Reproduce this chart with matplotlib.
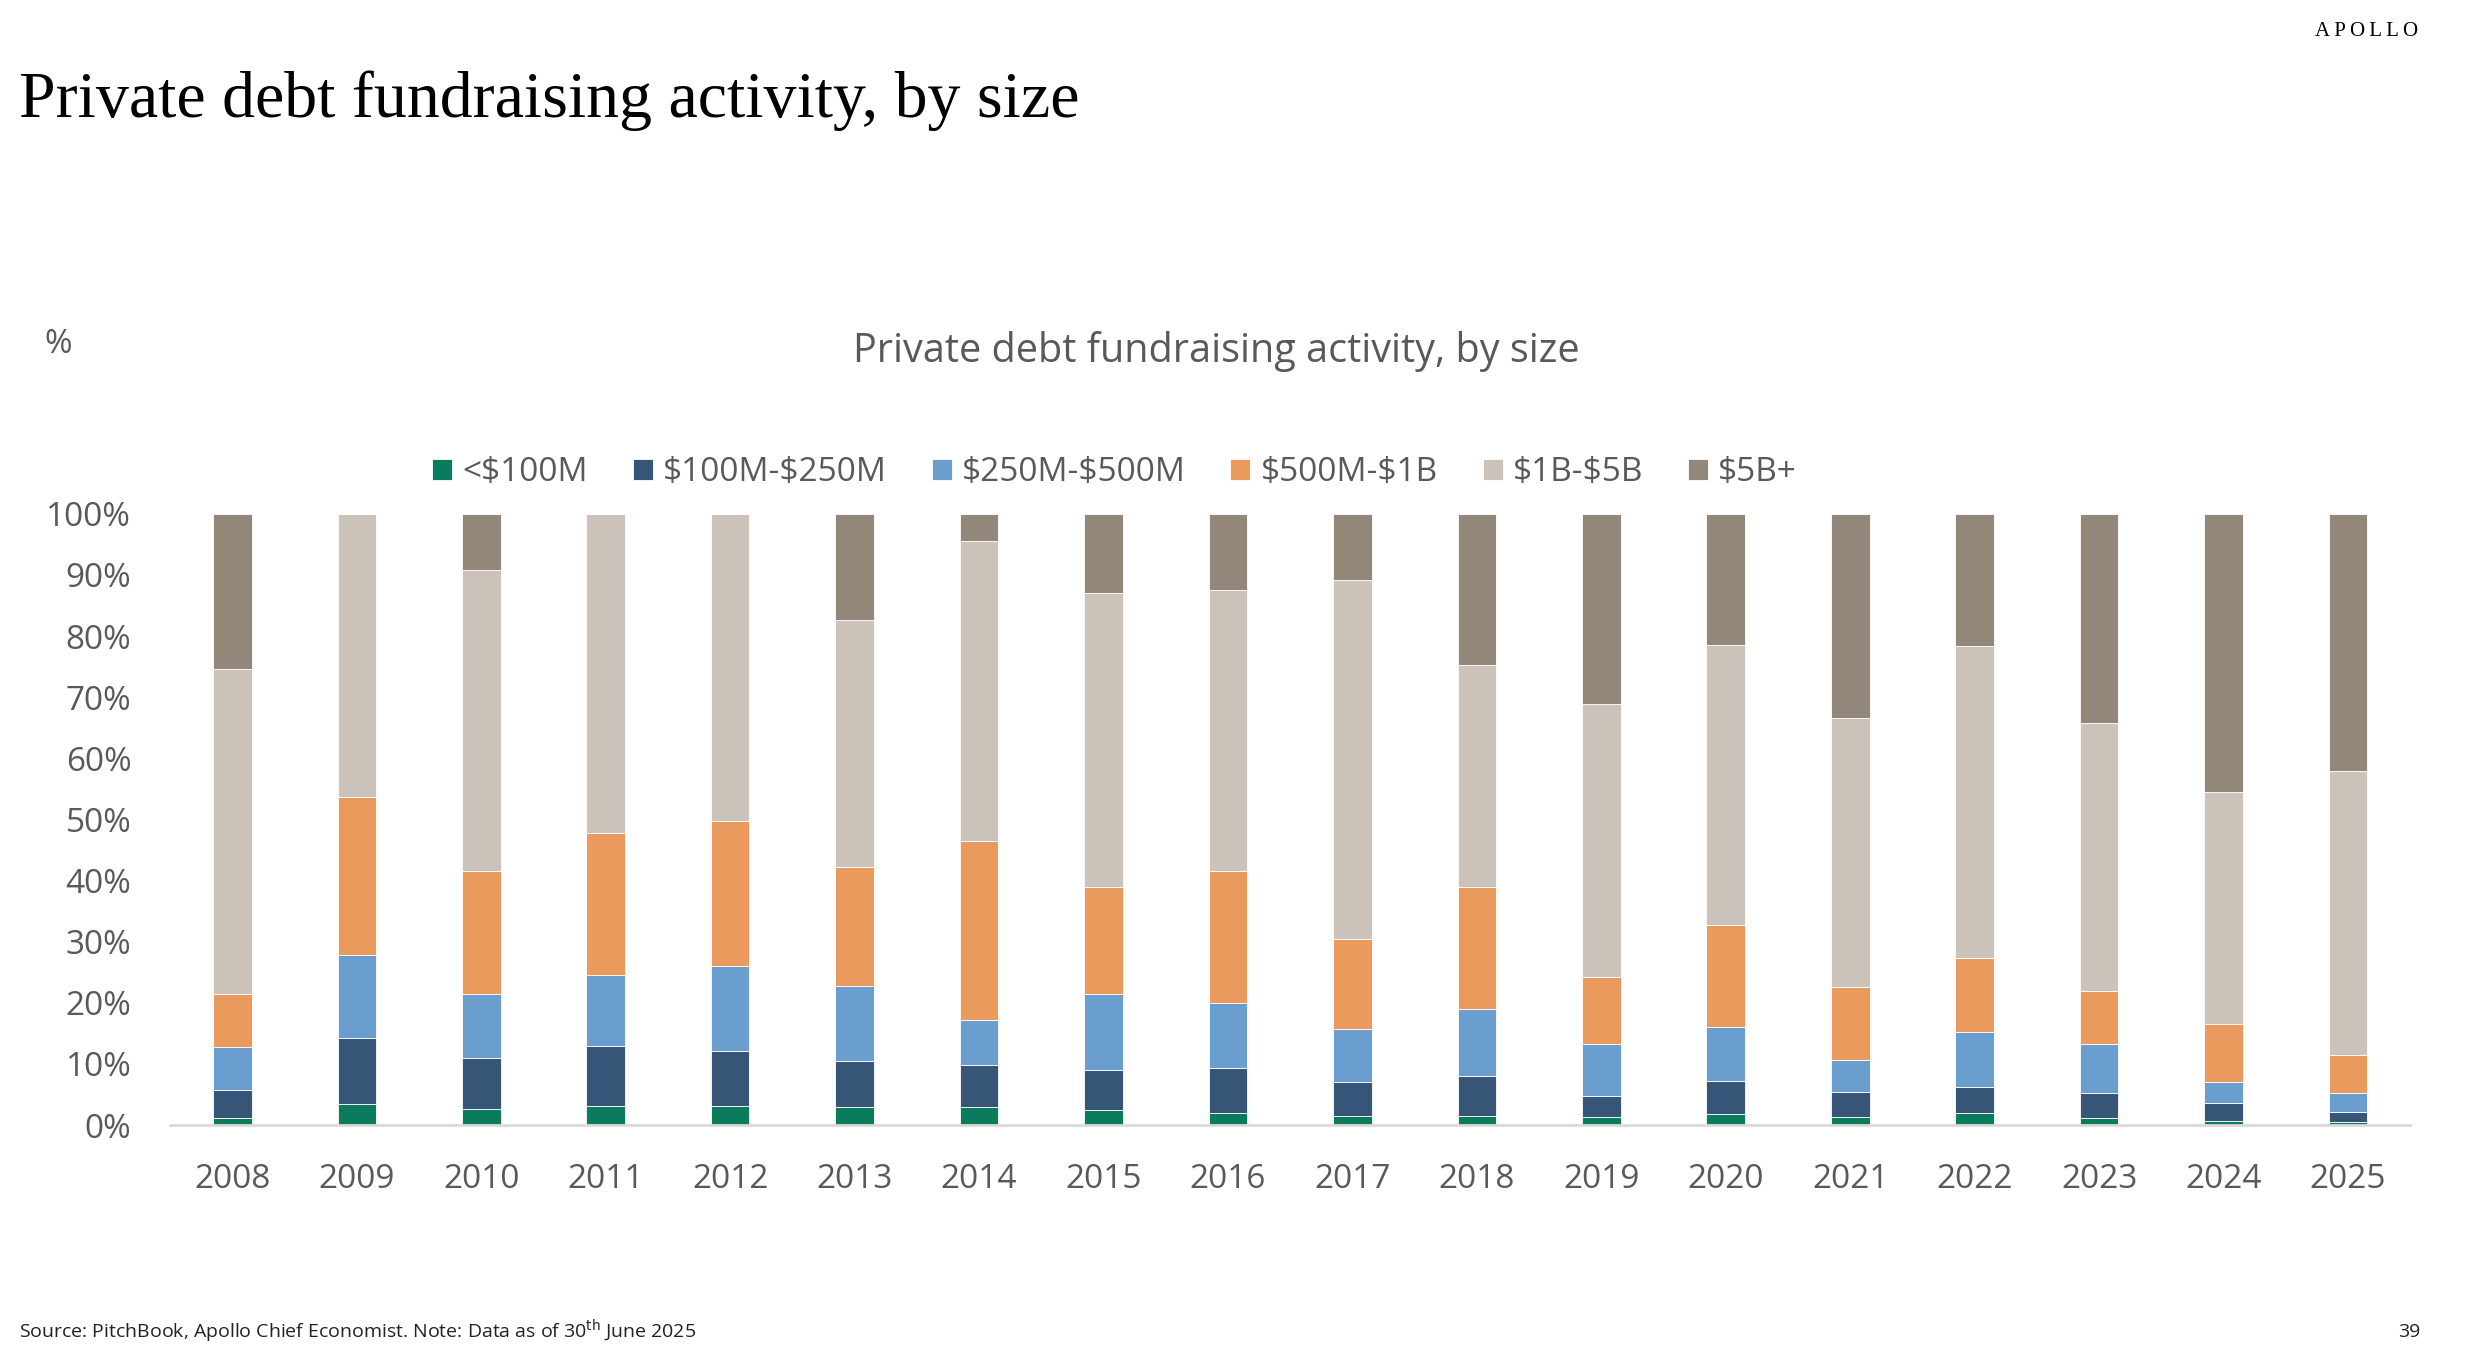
import matplotlib
matplotlib.use("Agg")
import matplotlib.pyplot as plt
from matplotlib.ticker import FuncFormatter
import numpy as np

years = ["2008", "2009", "2010", "2011", "2012", "2013", "2014", "2015", "2016",
         "2017", "2018", "2019", "2020", "2021", "2022", "2023", "2024", "2025"]
series_names = ["<$100M", "$100M-$250M", "$250M-$500M", "$500M-$1B", "$1B-$5B", "$5B+"]

under_100m = [1.1, 3.5, 2.7, 3.2, 3.2, 2.9, 2.9, 2.5, 2.0, 1.5, 1.5, 1.4, 1.8, 1.3, 2.0, 1.2, 0.6, 0.5]
m100_250 = [4.6, 10.7, 8.2, 9.8, 9.0, 7.6, 6.9, 6.5, 7.3, 5.6, 6.6, 3.4, 5.5, 4.2, 4.3, 4.0, 3.1, 1.7]
m250_500 = [7.0, 13.6, 10.5, 11.6, 13.9, 12.2, 7.4, 12.5, 10.6, 8.7, 10.9, 8.5, 8.7, 5.1, 9.0, 8.1, 3.4, 3.0]
m500_1b = [8.8, 25.8, 20.2, 23.2, 23.7, 19.5, 29.3, 17.5, 21.7, 14.6, 20.0, 11.0, 16.7, 12.0, 12.0, 8.7, 9.4, 6.2]
b1_5 = [53.1, 46.4, 49.2, 52.2, 50.2, 40.4, 49.1, 48.0, 45.9, 58.8, 36.3, 44.6, 45.8, 44.0, 51.1, 43.7, 38.0, 46.5]
b5_plus = [25.4, 0.0, 9.2, 0.0, 0.0, 17.4, 4.4, 13.0, 12.5, 10.8, 24.7, 31.1, 21.5, 33.4, 21.6, 34.3, 45.5, 42.1]

colors = ["#0B7B5E", "#375677", "#6A9ECF", "#EB9A5E", "#CBC3B9", "#93877A"]

chart_font = ["Open Sans", "DejaVu Sans"]
serif_font = ["Liberation Serif", "DejaVu Serif"]
grey_txt = "#595959"

fig = plt.figure(figsize=(24.7, 13.6), dpi=100)
ax = fig.add_axes([0.0689, 0.1727, 0.9069, 0.4495])

data = [under_100m, m100_250, m250_500, m500_1b, b1_5, b5_plus]
x = np.arange(len(years))
bottom = np.zeros(len(years))
handles = []
for vals, name, col in zip(data, series_names, colors):
    v = np.array(vals)
    h = ax.bar(x, v, width=0.31, bottom=bottom, color=col,
               edgecolor="white", linewidth=0.6)
    handles.append(h)
    bottom += v

ax.set_xlim(-0.5, 17.5)
ax.set_ylim(0, 100)
ax.set_yticks(np.arange(0, 101, 10))
ax.yaxis.set_major_formatter(FuncFormatter(lambda v, p: f"{int(v)}%"))
ax.set_xticks(x)
ax.set_xticklabels(years)
for s in ["top", "left", "right"]:
    ax.spines[s].set_visible(False)
ax.spines["bottom"].set_color("#D9D9D9")
ax.spines["bottom"].set_linewidth(2)
ax.tick_params(axis="both", length=0, labelsize=24, labelcolor=grey_txt)
ax.tick_params(axis="x", pad=27)
ax.tick_params(axis="y", pad=28)
for lab in ax.get_xticklabels() + ax.get_yticklabels():
    lab.set_family(chart_font)

leg_labels = [n.replace("$", r"\$") for n in series_names]
leg = fig.legend(handles=handles, labels=leg_labels, loc="center",
                 bbox_to_anchor=(0.4512, 0.6524), ncol=6, frameon=False,
                 prop={"family": chart_font, "size": 24}, handlelength=0.6,
                 handleheight=0.6, handletextpad=0.3, columnspacing=1.35)
for t in leg.get_texts():
    t.set_color(grey_txt)

fig.text(0.4923, 0.7417, "Private debt fundraising activity, by size", ha="center", va="center",
         fontsize=28.5, color=grey_txt, family=chart_font)
fig.text(0.0179, 0.7465, "%", ha="left", va="center", fontsize=24, color=grey_txt, family=chart_font)

fig.text(0.0077, 0.926, "Private debt fundraising activity, by size", ha="left", va="center",
         fontsize=47.4, color="black", family=serif_font)
fig.text(0.979, 0.977, "A\u2009P\u2009O\u2009L\u2009L\u2009O", ha="right", va="center", fontsize=15,
         color="black", family=serif_font)
fig.text(0.0077, 0.0209, "Source: PitchBook, Apollo Chief Economist. Note: Data as of 30$^{\\mathrm{th}}$ June 2025",
         ha="left", va="center", fontsize=14, color="#222222", family=chart_font)
fig.text(0.980, 0.0209, "39", ha="right", va="center", fontsize=14, color="#222222", family=chart_font)

fig.savefig("out.png", dpi=100, facecolor="white")
